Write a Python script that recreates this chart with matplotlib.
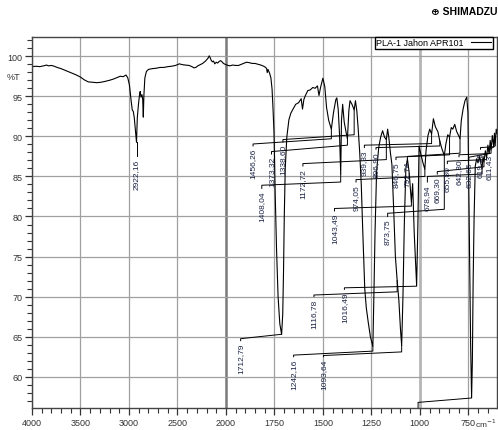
import numpy as np
import matplotlib
matplotlib.use("Agg")
import matplotlib.pyplot as plt
from matplotlib.ticker import FixedLocator

plt.rcParams["font.family"] = ["Liberation Sans", "DejaVu Sans"]

# spectrum (wavenumber cm-1, %T)
wavenumber = [
    4000, 3960, 3920, 3880, 3850, 3830, 3800, 3770, 3740, 3700, 3650, 3600, 3550, 3500,
    3460, 3420, 3380, 3330, 3290, 3250, 3200, 3160, 3120, 3090, 3060, 3030, 3012, 2995,
    2978, 2966, 2955, 2945, 2935, 2922.16, 2914, 2902, 2890, 2884, 2876, 2866, 2858, 2852,
    2846, 2836, 2820, 2800, 2760, 2720, 2680, 2640, 2600, 2560, 2520, 2480, 2450, 2420,
    2380, 2350, 2330, 2310, 2290, 2265, 2240, 2210, 2185, 2172, 2162, 2152, 2140, 2128,
    2115, 2100, 2085, 2070, 2055, 2040, 2025, 2010, 1995, 1980, 1965, 1950, 1935, 1920,
    1905, 1894, 1880, 1865, 1850, 1835, 1820, 1805, 1795, 1790, 1787, 1783, 1775, 1768,
    1762, 1757, 1752, 1746, 1739, 1731, 1722, 1712.79, 1707, 1703, 1699, 1694, 1686, 1675,
    1665, 1654, 1640, 1625, 1612, 1605, 1598, 1590, 1578, 1565, 1552, 1540, 1528, 1520,
    1512, 1500, 1490, 1481, 1470, 1456.26, 1445, 1433, 1428, 1421, 1414, 1408.04, 1404, 1398,
    1390, 1381, 1373.32, 1366, 1360, 1350, 1345, 1338.60, 1332, 1325, 1318, 1310, 1302, 1294,
    1284, 1276, 1266, 1255, 1242.16, 1237, 1231, 1223, 1212, 1202, 1192, 1182, 1172.72, 1166,
    1160, 1152, 1144, 1135, 1126, 1116.78, 1108, 1100, 1093.64, 1087, 1080, 1072, 1064, 1055,
    1043.49, 1037, 1029, 1016.49, 1010, 1004, 995, 985, 974.05, 968, 958, 949, 939.33, 930,
    920, 907, 896.90, 888, 873.75, 866, 856, 846.75, 838, 830, 820, 810, 800, 792.74,
    786, 777, 767, 758, 752, 748, 743, 738, 733, 729, 725, 720, 714, 707,
    700, 691, 685, 678.94, 674, 669.30, 662, 655.80, 649, 642.30, 637, 632.65, 626, 619.15,
    615, 611.43, 606, 601,
]
transmittance = [
    98.7, 98.75, 98.7, 98.8, 98.9, 98.8, 98.85, 98.75, 98.6, 98.45, 98.2, 97.95, 97.7, 97.4,
    97.05, 96.8, 96.75, 96.7, 96.75, 96.85, 97.0, 97.15, 97.35, 97.5, 97.45, 97.65, 97.3, 96.4,
    94.5, 93.3, 93.1, 92.3, 91.0, 89.25, 92.3, 94.0, 95.3, 95.6, 94.9, 95.2, 94.6, 92.4,
    95.1, 97.3, 98.1, 98.35, 98.45, 98.5, 98.6, 98.6, 98.7, 98.75, 98.85, 99.05, 98.95, 98.9,
    98.85, 98.7, 98.55, 98.6, 98.8, 98.95, 99.1, 99.4, 99.75, 100.05, 99.8, 99.5, 99.3, 99.4,
    99.05, 99.25, 99.15, 99.35, 99.45, 99.3, 99.1, 99.0, 98.9, 98.8, 98.9, 98.85, 98.85, 99.0,
    99.15, 99.25, 99.2, 99.1, 99.1, 99.0, 98.9, 98.75, 98.6, 98.45, 97.95, 98.35, 97.9, 97.3,
    95.9, 93.4, 90.5, 83.0, 76.0, 70.0, 66.6, 65.3, 67.8, 73.0, 80.0, 86.0, 89.9, 92.1,
    92.9, 93.4, 94.0, 94.2, 94.7, 93.4, 94.6, 95.1, 95.7, 95.8, 96.1, 96.0, 96.3, 95.1,
    96.1, 97.25, 96.2, 93.6, 92.0, 90.9, 93.0, 94.6, 94.8, 93.4, 90.2, 85.3, 92.0, 94.0,
    91.8, 90.6, 89.7, 93.2, 94.45, 94.0, 93.7, 93.3, 94.45, 93.2, 91.0, 88.0, 84.0, 78.0,
    71.0, 68.6, 66.8, 65.0, 63.8, 70.0, 78.0, 85.6, 88.6, 89.9, 90.7, 89.9, 89.6, 90.9,
    89.9, 88.0, 86.5, 81.0, 75.0, 72.0, 69.5, 66.0, 63.9, 70.0, 79.0, 86.0, 87.2, 85.5,
    81.8, 84.1, 78.0, 71.4, 79.0, 88.8, 87.8, 86.8, 85.9, 88.2, 90.1, 90.9, 90.3, 92.2,
    91.2, 90.6, 89.4, 88.6, 87.6, 89.0, 90.2, 89.9, 91.1, 90.9, 91.5, 90.6, 90.1, 89.7,
    92.0, 93.4, 94.45, 94.9, 93.0, 85.0, 74.0, 64.0, 57.4, 62.0, 72.0, 80.0, 86.3, 87.2,
    86.7, 87.5, 86.6, 86.0, 87.5, 86.8, 88.2, 87.3, 88.9, 87.9, 89.5, 88.3, 90.1, 88.7,
    90.4, 88.9, 90.9, 90.3,
]

# peak table printed on the chart
peak_text = ["2922,16", "1712,79", "1456,26", "1408,04", "1373,32", "1338,60", "1242,16",
             "1172,72", "1116,78", "1093,64", "1043,49", "1016,49", "974,05", "939,33",
             "896,90", "873,75", "846,75", "792,74", "678,94", "669,30", "655,80",
             "642,30", "632,65", "619,15", "611,43"]
peak_wn = [2922.16, 1712.79, 1456.26, 1408.04, 1373.32, 1338.60, 1242.16, 1172.72,
           1116.78, 1093.64, 1043.49, 1016.49, 974.05, 939.33, 896.90, 873.75, 846.75,
           792.74, 678.94, 669.30, 655.80, 642.30, 632.65, 619.15, 611.43]
peak_T = [89.25, 65.3, 90.9, 85.3, 89.7, 93.3, 63.8, 89.6, 72.0, 63.9, 81.8, 71.4, 85.9,
          90.3, 89.4, 87.6, 89.9, 89.7, 86.0, 86.8, 87.3, 87.9, 88.3, 88.7, 88.9]

# where each label sits and how its leader bends
label_x = [2922.16, 1924, 1860, 1815, 1765, 1706, 1651, 1603, 1546, 1497, 1440, 1389, 1329,
           1286, 1226, 1166, 1123, 1064, 961, 910, 858, 798, 747, 687, 644]
label_top = [87.5, 64.5, 88.8, 83.5, 87.8, 89.3, 62.5, 86.3, 70.0, 62.5, 80.7, 70.9, 84.3,
             88.6, 88.4, 80.0, 87.1, 87.2, 84.3, 85.3, 86.6, 87.45, 87.1, 88.4, 88.05]
elbow_l = [87.5, 64.75, 89.05, 83.9, 88.1, 89.6, 62.7, 86.6, 70.2, 62.65, 81.0, 71.1, 84.6,
           88.9, 88.6, 80.4, 87.4, 87.5, 85.0, 85.6, 86.9, 87.7, 87.4, 88.6, 88.3]
elbow_p = [87.5, 65.3, 89.7, 84.3, 88.9, 90.2, 63.2, 87.1, 70.6, 63.1, 81.3, 71.3, 85.0,
           89.1, 88.8, 80.9, 87.7, 87.9, 85.3, 86.2, 87.1, 87.85, 87.9, 88.7, 88.8]


def fwd(x):
    x = np.asarray(x, dtype=float)
    return np.where(x > 2000, 2000 + (x - 2000) / 2, x)


def inv(t):
    t = np.asarray(t, dtype=float)
    return np.where(t > 2000, 2000 + (t - 2000) * 2, t)


fig = plt.figure(figsize=(4.98, 4.31), dpi=100)
ax = fig.add_axes([32 / 498, 22 / 431, 465 / 498, 371 / 431])
ax.set_xscale("function", functions=(fwd, inv))
ax.set_xlim(4000, 602)
ax.set_ylim(56.1, 102.4)

major_x = [4000, 3500, 3000, 2500, 2000, 1750, 1500, 1250, 1000, 750]
minor_x = [v for v in list(range(3900, 2000, -100)) + list(range(1950, 600, -50))
           if v not in major_x]
ax.xaxis.set_major_locator(FixedLocator(major_x))
ax.xaxis.set_minor_locator(FixedLocator(minor_x))
ax.yaxis.set_major_locator(FixedLocator(range(60, 101, 5)))
ax.yaxis.set_minor_locator(FixedLocator(range(57, 103)))
ax.tick_params(which="major", direction="out", length=5, width=0.9, labelsize=6.5,
               colors="#333333", pad=2)
ax.tick_params(which="minor", direction="out", length=3.5, width=0.8, colors="#333333")

for v in major_x:
    if v == 2000:
        ax.axvline(v, color="#7a7a7a", lw=1.8, zorder=0)
    elif v == 1000:
        ax.axvline(v, color="#b5b5b5", lw=2.0, zorder=0)
    else:
        ax.axvline(v, color="#a0a0a0", lw=0.9, zorder=0)
for v in range(60, 101, 5):
    ax.axhline(v, color="#a0a0a0", lw=0.9, zorder=0)

for s in ax.spines.values():
    s.set_color("#444444")
    s.set_linewidth(1.0)

ax.plot(wavenumber, transmittance, color="black", lw=0.8, label="PLA-1 Jahon APR101")

# leaders and peak labels
for i in range(len(peak_text)):
    xs = [label_x[i], label_x[i], peak_wn[i], peak_wn[i]]
    ys = [label_top[i], elbow_l[i], elbow_p[i], peak_T[i]]
    ax.plot(xs, ys, color="black", lw=0.7)
    ax.text(label_x[i], label_top[i] - 0.25, peak_text[i], rotation=90, ha="center",
            va="top", fontsize=6, color="#1c2447")

# leader of the deep band whose label falls below the frame
ax.plot([1009, 1009, 733, 733], [55.5, 56.8, 57.35, 57.4], color="black", lw=0.7)

ax.legend(loc="upper right", bbox_to_anchor=(0.991, 1.0), borderaxespad=0,
          fontsize=6.5, handlelength=2.3, handletextpad=0.8, borderpad=0.15,
          markerfirst=False, fancybox=False, framealpha=1, edgecolor="black")

fig.text(13 / 498, 1 - 77 / 431, "%T", fontsize=6.5, color="#333333",
         ha="center", va="center")
fig.text(0.998, 1 - 12 / 431, "\u2295 SHIMADZU", fontsize=7.5, fontweight="bold",
         ha="right", va="center")
fig.text(486 / 498, 7 / 431, "cm$^{-1}$", fontsize=6, ha="center", va="center",
         color="#333333")

fig.savefig("out.png", dpi=100)
